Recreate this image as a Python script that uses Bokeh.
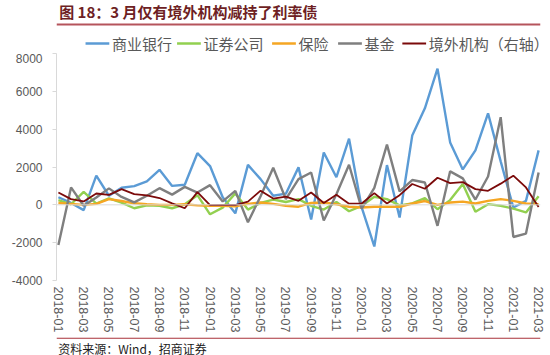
from bokeh.plotting import figure
from bokeh.models import Range1d, Span, FixedTicker, ColumnDataSource
from bokeh.layouts import column
from bokeh.embed import file_html
from bokeh.resources import INLINE
from bokeh.core.properties import value

# ---------------- data ----------------
months = ["2018-01", "2018-02", "2018-03", "2018-04", "2018-05", "2018-06", "2018-07",
          "2018-08", "2018-09", "2018-10", "2018-11", "2018-12", "2019-01", "2019-02",
          "2019-03", "2019-04", "2019-05", "2019-06", "2019-07", "2019-08", "2019-09",
          "2019-10", "2019-11", "2019-12", "2020-01", "2020-02", "2020-03", "2020-04",
          "2020-05", "2020-06", "2020-07", "2020-08", "2020-09", "2020-10", "2020-11",
          "2020-12", "2021-01", "2021-02", "2021-03"]

bank = [400, 100, -280, 1540, 480, 900, 990, 1240, 1850, 1000, 1060, 2730, 2050, 400,
        -450, 2110, 1360, 480, 590, 1980, -780, 2770, 1460, 3500, -140, -2200, 2100,
        -670, 3660, 5100, 7200, 3300, 1870, 2880, 4840, 2300, -140, 210, 2880]
securities = [250, 30, 690, 70, 340, 120, -180, -20, -50, -180, 30, 510, -500, -150,
              600, -250, 100, 280, 150, 300, -50, -250, 150, -340, -50, 430, 300,
              -30, 80, 350, -230, 250, 1100, -370, 35, -50, -200, -400, 450]
insurance = [100, 50, 0, 50, 300, 200, 80, 30, 0, 0, 30, -30, -50, -50, -80, 50, 120,
             50, -50, -100, 100, 120, 30, -100, -140, -100, -100, -100, 70, 200, 0, 120,
             170, 70, 210, 300, 210, 70, 35]
fund = [-2120, 920, -50, 390, 870, 420, 130, 480, 880, 540, 950, 650, 1040, 180, 740,
        -920, 450, 1960, 300, 1360, 1710, -830, 560, 2120, -200, 900, 3180, 710, 1310,
        1180, -1110, 1770, 1400, 280, 1500, 4630, -1700, -1520, 1710]
foreign = [650, 300, 180, 600, 530, 830, 565, 500, 360, 80, -180, 670, -20, 0, -10, 170,
           750, 330, 430, 210, 650, 100, 530, 60, 70, 620, 70, 510, 1100, 850, 1430,
           1150, 1200, 830, 740, 1120, 1540, 920, -120]

series_keys = ["bank", "securities", "insurance", "fund", "foreign"]
series_names = ["商业银行", "证券公司", "保险", "基金", "境外机构（右轴）"]
y_ticks = [-4000, -2000, 0, 2000, 4000, 6000, 8000]

title_text = "图 18：3 月仅有境外机构减持了利率债"
source_text = "资料来源：Wind，招商证券"

# ---------------- styles ----------------
colors = ["#5B9BD5", "#92D050", "#F5A623", "#7F7F7F", "#7B0A0A"]
widths = [2.4, 2.4, 2.4, 2.4, 1.8]
CJK = "Noto Sans CJK SC"
NUM = "Liberation Sans"

W = 550

# ---------------- title + legend strip ----------------
top = figure(width=W, height=53, x_range=Range1d(0, W), y_range=Range1d(53, 0),
             x_axis_type=None, y_axis_type=None, output_backend="svg",
             toolbar_location=None, min_border=0)
top.outline_line_color = None
top.grid.visible = False
top.text(x=[3], y=[11], text=[title_text], text_font=value(CJK), text_font_size="15px",
         text_font_style="bold", text_color="#6E1F24", text_baseline="middle")
top.segment(x0=[0], y0=[24], x1=[W], y1=[24], line_color="#B5545C", line_width=2)

# legend: key line + label for each series
key_x0 = [33, 137, 245, 320, 393]
key_len = 27
key_y = 43
for x0, name, c, w in zip(key_x0, series_names, colors, widths):
    top.segment(x0=[x0], y0=[key_y], x1=[x0 + key_len], y1=[key_y], line_color=c, line_width=w)
    top.text(x=[x0 + key_len + 3], y=[key_y], text=[name], text_font=value(CJK),
             text_font_size="15px", text_color="#595959", text_baseline="middle")

# ---------------- main chart ----------------
x = list(range(len(months)))
src = ColumnDataSource(dict(x=x, bank=bank, securities=securities, insurance=insurance,
                            fund=fund, foreign=foreign))

p = figure(frame_width=484, frame_height=227, x_range=Range1d(-0.15, 38.15),
           y_range=Range1d(-4000, 8000), output_backend="svg", toolbar_location=None,
           min_border_left=56, min_border_right=10, min_border_top=0,
           min_border_bottom=57)
p.extra_y_ranges = {"right": Range1d(-4000, 8000)}
p.outline_line_color = None
p.grid.visible = False
p.background_fill_color = "white"

p.add_layout(Span(location=0, dimension="width", line_color="#D9D9D9", line_width=1))

for key, c, w in zip(series_keys[:4], colors[:4], widths[:4]):
    p.line("x", key, source=src, line_color=c, line_width=w)
p.line("x", "foreign", source=src, line_color=colors[4], line_width=widths[4],
       y_range_name="right")

# y axis
p.yaxis.ticker = FixedTicker(ticks=y_ticks)
p.yaxis.major_label_overrides = {t: str(t) for t in y_ticks}
p.yaxis.axis_line_color = "#D9D9D9"
p.yaxis.major_tick_line_color = "#D9D9D9"
p.yaxis.major_tick_out = 4
p.yaxis.major_tick_in = 0
p.yaxis.minor_tick_line_color = None
p.yaxis.major_label_text_font = NUM
p.yaxis.major_label_text_font_size = "12px"
p.yaxis.major_label_text_color = "#595959"
p.yaxis.major_label_standoff = 10

# x axis
p.xaxis.ticker = FixedTicker(ticks=x[::2])
p.xaxis.major_label_overrides = {i: months[i] for i in x[::2]}
p.xaxis.major_label_orientation = "vertical"
p.xaxis.axis_line_color = None
p.xaxis.major_tick_line_color = None
p.xaxis.major_tick_out = 0
p.xaxis.minor_tick_line_color = None
p.xaxis.major_label_text_font = NUM
p.xaxis.major_label_text_font_size = "12.5px"
p.xaxis.major_label_text_color = "#595959"
p.xaxis.major_label_standoff = 6

# ---------------- source strip ----------------
bot = figure(width=W, height=18, x_range=Range1d(0, W), y_range=Range1d(18, 0),
             x_axis_type=None, y_axis_type=None, output_backend="svg",
             toolbar_location=None, min_border=0)
bot.outline_line_color = None
bot.grid.visible = False
bot.segment(x0=[0], y0=[0.7], x1=[W], y1=[0.7], line_color="#A8323A", line_width=1.2)
bot.text(x=[2], y=[10.5], text=[source_text], text_font=value(CJK), text_font_size="12px",
         text_color="#1A1A1A", text_baseline="middle")

layout = column(top, p, bot, spacing=0)
open("out.html", "w").write(file_html(layout, INLINE))
